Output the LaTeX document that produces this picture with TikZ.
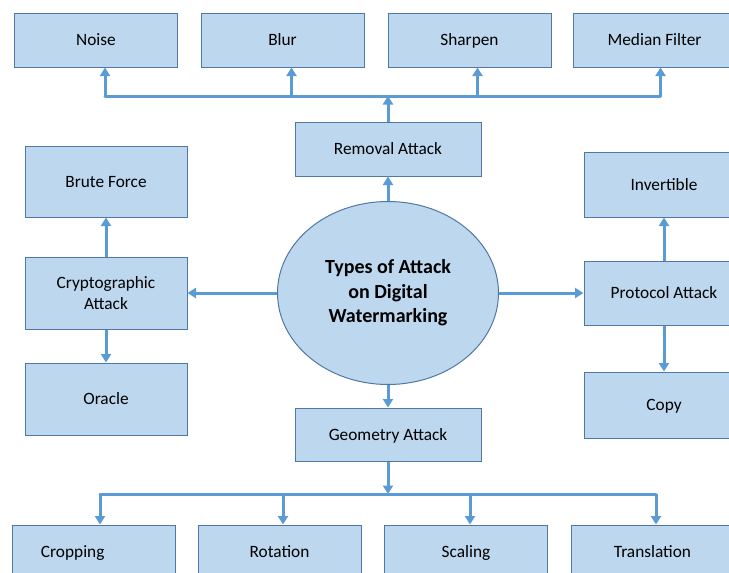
\documentclass[tikz,border=0pt]{standalone}
\usepackage{fontspec}
\setmainfont{Carlito}
\usetikzlibrary{arrows.meta, shapes.geometric}

\definecolor{boxfill}{RGB}{189,215,238}
\definecolor{boxline}{RGB}{80,120,165}
\definecolor{arrowblue}{RGB}{91,155,213}

\begin{document}
\begin{tikzpicture}[x=1pt, y=-1pt,
  cell/.style={draw=boxline, fill=boxfill, line width=1pt, inner sep=2pt,
    minimum width=163pt, minimum height=54pt, align=center,
    font=\fontsize{17.3}{20.5}\selectfont},
  box/.style={cell, text height=13pt, text depth=2pt},
  link/.style={draw=arrowblue, line width=3pt},
  arr/.style={link, -{Triangle[length=8.5pt, width=10pt]}}]
  \useasboundingbox (0,0) rectangle (729,573);

  % top row: removal attack leaves
  \node[box] (noise) at (96,40) {Noise};
  \node[box] (blur) at (282.5,40) {Blur};
  \node[box] (sharpen) at (469.5,40) {Sharpen};
  \node[box] (median) at (654.5,40) {Median Filter};
  \node[box, minimum width=186pt] (removal) at (388,149) {Removal Attack};

  % centre
  \node[ellipse, draw=boxline, fill=boxfill, line width=1pt, minimum width=221pt,
    minimum height=183pt, align=center,
    font=\fontsize{20}{24.5}\selectfont\bfseries] (types) at (388,293)
    {Types of Attack\\on Digital\\Watermarking};

  % left column
  \node[box, minimum width=162pt, minimum height=71pt] (brute) at (106,181.5) {Brute Force};
  \node[cell, minimum width=162pt, minimum height=72pt] (crypto) at (106,293) {Cryptographic\\Attack};
  \node[box, minimum width=162pt, minimum height=72pt] (oracle) at (106,399) {Oracle};

  % right column
  \node[box, minimum width=160pt, minimum height=65pt] (invert) at (664,184.5) {Invertible};
  \node[box, minimum width=160pt, minimum height=64pt] (protocol) at (664,293) {Protocol Attack};
  \node[box, minimum width=160pt, minimum height=66pt] (copy) at (664,405) {Copy};

  % bottom row: geometry attack leaves
  \node[box, minimum width=186pt, minimum height=53pt] (geometry) at (388,434.5) {Geometry Attack};
  \node[box, text width=105pt, inner xsep=29pt, align=left] (cropping) at (93.5,552) {Cropping};
  \node[box] (rotation) at (279.5,552) {Rotation};
  \node[box] (scaling) at (466,552) {Scaling};
  \node[box] (translation) at (652.5,552) {Translation};

  \coordinate (topbus) at (388,96);
  \coordinate (botbus) at (388,494);

  % connectors
  \draw[arr] (types.north) -- (removal.south);
  \draw[arr] (removal.north) -- (topbus);
  \draw[link, line cap=round] ([xshift=9pt]noise.south |- topbus) -- ([xshift=6pt]median.south |- topbus);
  \foreach \n/\dx in {noise/9, blur/9, sharpen/8, median/6}
    \draw[arr] ([xshift=\dx pt]\n.south |- topbus) -- ([xshift=\dx pt]\n.south);

  \draw[arr] (types.west) -- (crypto.east);
  \draw[arr] (crypto.north) -- (brute.south);
  \draw[arr] (crypto.south) -- (oracle.north);

  \draw[arr] (types.east) -- (protocol.west);
  \draw[arr] (protocol.north) -- (invert.south);
  \draw[arr] (protocol.south) -- (copy.north);

  \draw[arr] (types.south) -- (geometry.north);
  \draw[arr] (geometry.south) -- (botbus);
  \draw[link, line cap=round] ([xshift=6.5pt]cropping.north |- botbus) -- ([xshift=3.5pt]translation.north |- botbus);
  \foreach \n/\dx in {cropping/6.5, rotation/3.5, scaling/4, translation/3.5}
    \draw[arr] ([xshift=\dx pt]\n.north |- botbus) -- ([xshift=\dx pt]\n.north);
\end{tikzpicture}
\end{document}
